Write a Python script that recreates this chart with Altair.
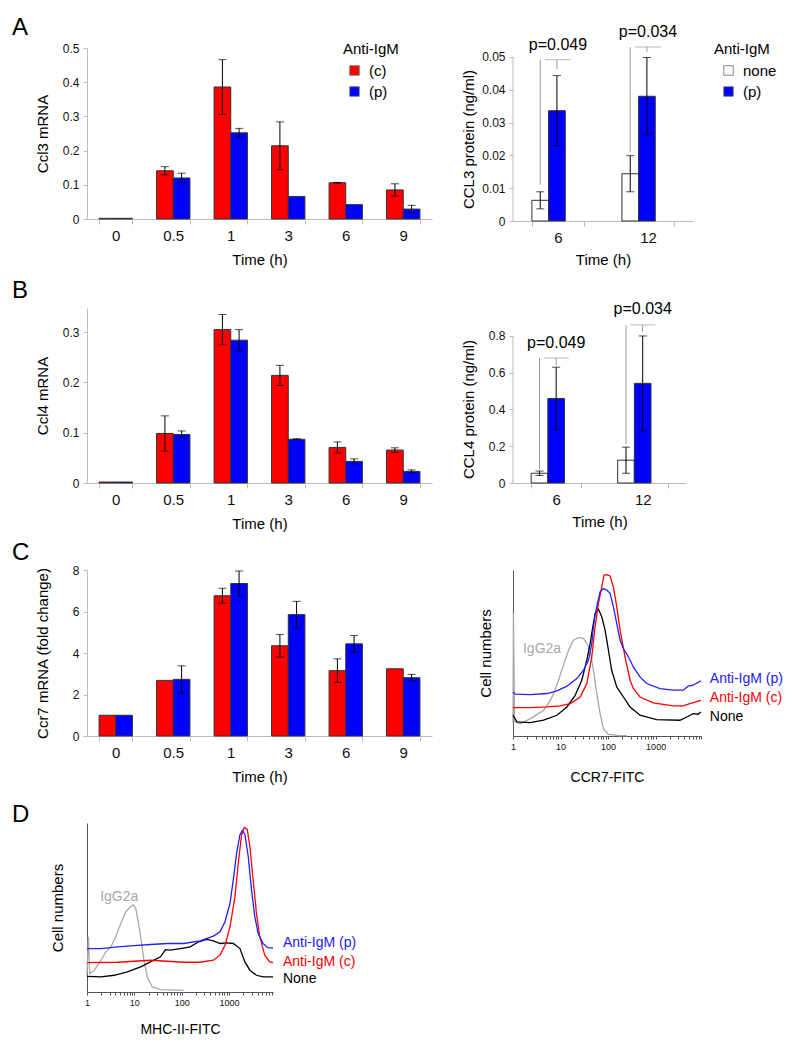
import altair as alt
import pandas as pd

FONT = "Liberation Sans"
RED = "#ff0000"
BLUE = "#0000ff"

# ---------------- bar chart data ----------------
times = ["0", "0.5", "1", "3", "6", "9"]
treatments = ["(c)", "(p)"]

ccl3_c = [0.002, 0.141, 0.386, 0.214, 0.106, 0.085]
ccl3_c_err = [0, 0.012, 0.080, 0.070, 0.001, 0.018]
ccl3_p = [0.002, 0.120, 0.252, 0.066, 0.042, 0.029]
ccl3_p_err = [0, 0.014, 0.013, 0, 0, 0.011]

ccl4_c = [0.002, 0.0985, 0.305, 0.214, 0.0707, 0.0655]
ccl4_c_err = [0, 0.035, 0.030, 0.020, 0.011, 0.0045]
ccl4_p = [0.002, 0.0965, 0.284, 0.087, 0.043, 0.023]
ccl4_p_err = [0, 0.007, 0.021, 0.001, 0.005, 0.003]

ccr7_c = [1.0, 2.68, 6.76, 4.35, 3.15, 3.24]
ccr7_c_err = [0, 0, 0.36, 0.54, 0.57, 0]
ccr7_p = [1.0, 2.73, 7.35, 5.85, 4.44, 2.81]
ccr7_p_err = [0, 0.65, 0.60, 0.64, 0.40, 0.16]

prot_times = ["6", "12"]
stims = ["none", "(p)"]
ccl3_none = [0.0063, 0.0144]
ccl3_none_err = [0.0026, 0.0055]
ccl3_prot_p = [0.0336, 0.0380]
ccl3_prot_p_err = [0.0107, 0.0118]
ccl4_none = [0.053, 0.124]
ccl4_none_err = [0.012, 0.071]
ccl4_prot_p = [0.460, 0.542]
ccl4_prot_p_err = [0.170, 0.258]

p_labels = ["p=0.049", "p=0.034"]
ccl3_br_top = [0.0491, 0.0530]
ccl3_br_left = [0.0110, 0.0210]
ccl3_br_right = [0.0463, 0.0515]
ccl3_p_y = [0.0537, 0.0576]
ccl4_br_top = [0.680, 0.860]
ccl4_br_left = [0.076, 0.212]
ccl4_br_right = [0.642, 0.822]
ccl4_p_y = [0.762, 0.947]

# ---------------- flow cytometry data ----------------
samples = ["IgG2a", "None", "Anti-IgM (c)", "Anti-IgM (p)"]
sample_colors = ["#a8a8a8", "#000000", "#ff0000", "#2020ff"]

c_gray_x = [1, 1.02, 1.08, 1.43, 2.7, 4.4, 6.1, 7.7, 9.8, 12.5, 14.7, 18.7, 23.9, 30.4, 35.7, 41.9, 49.2, 57.8, 68, 79.8, 101.6, 179, 250]
c_gray_y = [8.0, 73.8, 8.5, 7.4, 11.5, 15.5, 21.5, 27.6, 36.6, 45.7, 51.7, 57.7, 59.4, 58.8, 55.7, 51.7, 39.6, 25.6, 13.5, 4.4, 1.0, 0.2, 0.2]
c_black_x = [1, 1.21, 2.3, 4.4, 8.4, 13.6, 20.3, 28, 35.7, 41.9, 47.7, 53.4, 62.7, 73.6, 86.5, 101.6, 119, 152, 210, 290, 469, 1050, 3240, 4840, 6170, 7850, 8930]
c_black_y = [12.5, 8.5, 8.0, 9.5, 12.5, 17.5, 24.5, 33.6, 45.7, 55.7, 65.8, 73.8, 76.3, 71.8, 63.8, 51.7, 39.6, 29.6, 23.5, 17.5, 12.5, 9.9, 9.5, 11.9, 13.5, 13.1, 14.5]
c_red_x = [1, 2.3, 5.2, 9.8, 16, 25.9, 35.7, 45.4, 53.4, 62.7, 73.6, 82.4, 93.8, 110, 129, 152, 179, 227, 290, 340, 469, 893, 2349, 3800, 5250, 8930]
c_red_y = [17.1, 17.1, 17.5, 18.1, 19.5, 23.5, 31.6, 47.7, 65.8, 79.9, 89.9, 97.0, 97.2, 96.4, 89.9, 77.9, 63.8, 47.7, 33.6, 28.6, 23.5, 19.9, 18.1, 18.1, 19.5, 21.5]
c_blue_x = [1, 1.12, 2.3, 5.2, 8.4, 13.6, 22, 30.4, 38.7, 45.4, 49.2, 53.4, 59.7, 68, 79.8, 93.8, 110, 129, 152, 179, 210, 267, 340, 469, 647, 1233, 2349, 3800, 4840, 6170, 8930]
c_blue_y = [26.6, 25.2, 24.9, 25.6, 27.2, 30.0, 34.6, 39.6, 45.7, 55.7, 65.8, 72.8, 79.9, 86.9, 88.9, 87.9, 85.9, 77.9, 67.8, 57.7, 52.7, 47.7, 41.6, 35.6, 31.6, 28.6, 27.6, 27.6, 30.0, 30.6, 33.2]

d_gray_x = [1, 1.07, 1.14, 1.43, 1.97, 2.5, 3.19, 4.06, 5.17, 6.58, 8.38, 9.5, 10.7, 11.9, 13.6, 16, 18.7, 23.9, 35.7, 110]
d_gray_y = [10.3, 32.7, 10.9, 12.9, 18.8, 23.8, 26.7, 32.7, 40.6, 47.5, 50.5, 51.5, 49.5, 42.6, 32.7, 18.8, 8.9, 3.0, 1.4, 1.0]
d_black_x = [1, 1.97, 3.74, 7.13, 13.6, 22, 35.7, 45.4, 57.8, 93.8, 152, 227, 340, 469, 647, 893, 1233, 1702, 2168, 2758, 3800, 5250, 8510]
d_black_y = [9.3, 8.9, 9.9, 11.9, 14.9, 17.8, 20.8, 25.1, 24.8, 25.7, 26.7, 29.7, 31.1, 30.3, 28.7, 29.1, 28.7, 25.7, 17.8, 12.9, 9.9, 8.9, 8.9]
d_red_x = [1, 4.4, 22, 49.2, 110, 246, 469, 647, 824, 1050, 1336, 1570, 1845, 2100, 2427, 2758, 3240, 3800, 4470, 5690, 7240, 8510]
d_red_y = [17.4, 17.6, 18.8, 18.2, 17.6, 17.6, 18.8, 21.8, 27.7, 38.6, 56.4, 76.2, 93.1, 97.4, 96.4, 86.1, 66.3, 46.5, 32.7, 21.8, 17.8, 17.4]
d_blue_x = [1, 1.97, 4.4, 9.8, 22, 49.2, 110, 246, 469, 647, 824, 1050, 1233, 1449, 1702, 1905, 2168, 2547, 2990, 3510, 4120, 5250, 6680, 8510]
d_blue_y = [25.7, 25.7, 26.7, 27.5, 28.1, 28.7, 28.7, 30.3, 33.1, 35.6, 41.6, 52.5, 66.3, 82.2, 93.1, 95.6, 93.1, 80.2, 60.4, 44.6, 34.7, 28.7, 26.1, 26.1]

label_text = ["IgG2a", "Anti-IgM (p)", "Anti-IgM (c)", "None"]
label_sample = ["IgG2a", "Anti-IgM (p)", "Anti-IgM (c)", "None"]
c_label_x = [1.62, 13800, 13800, 13800]
c_label_y = [52.7, 34.6, 23.1, 11.5]
d_label_x = [1.9, 13800, 13800, 13800]
d_label_y = [56.0, 28.7, 17.8, 7.5]

c_ticks = [1, 2, 3, 4, 5, 6, 7, 8, 9, 10, 20, 30, 40, 50, 60, 70, 80, 90,
           100, 200, 300, 400, 500, 600, 700, 800, 900, 1000, 2000, 3000,
           4000, 5000, 6000, 7000, 8000, 9000]
d_ticks = c_ticks[:-1]


# ---------------- helpers ----------------
def bar_df(cats, groups, vals_a, err_a, vals_b, err_b):
    rows = []
    for gi, (g, vals, errs) in enumerate(((groups[0], vals_a, err_a),
                                          (groups[1], vals_b, err_b))):
        for t, v, e in zip(cats, vals, errs):
            rows.append({"time": t, "group": g, "gi": gi, "value": v, "err": e,
                         "lo": v - e, "hi": v + e})
    return pd.DataFrame(rows)


def x_enc(cats, title_y):
    return alt.X("time:N", sort=cats,
                 scale=alt.Scale(domain=cats, paddingInner=0.42, paddingOuter=0.21),
                 axis=alt.Axis(title="Time (h)", labelAngle=0, tickBand="extent",
                               domainColor="#bbbbbb", tickColor="#bbbbbb", tickSize=5,
                               labelFontSize=15, labelPadding=4, labelColor="#111111",
                               titleFontSize=15, titleFontWeight="normal",
                               titleY=title_y, titleBaseline="middle", grid=False))


def xo_enc():
    return alt.XOffset("gi:O", scale=alt.Scale(domain=[0, 1], paddingInner=0,
                                               paddingOuter=0))


def y_enc(field, title, domain, values, show_domain, title_y):
    ax = dict(title=title, values=values, format="~g", domain=show_domain,
              domainColor="#bbbbbb", tickColor="#bbbbbb", tickSize=4,
              labelFontSize=12, labelPadding=4, labelColor="#111111",
              titleFontSize=15, titleFontWeight="normal",
              titleX=-45, titleBaseline="middle", grid=False)
    if title_y is not None:
        ax["titleY"] = title_y
    return alt.Y(field + ":Q", scale=alt.Scale(domain=domain, nice=False, zero=True),
                 axis=alt.Axis(**ax))


def bar_panel(df, cats, groups, colors, ytitle, ydomain, yvalues, width, height,
              legend, brackets=None, title=None, short_axis=False, ytitle_y=None,
              xtitle_y=40):
    x = x_enc(cats, xtitle_y)
    xo = xo_enc()
    yy = lambda f: y_enc(f, ytitle, ydomain, yvalues, not short_axis, ytitle_y)
    base = alt.Chart(df)
    bars = base.mark_bar(stroke="#333333", strokeWidth=1).encode(
        x=x, xOffset=xo, y=yy("value"),
        color=alt.Color("group:N", scale=alt.Scale(domain=groups, range=colors),
                        legend=legend))
    errbase = base.transform_filter("datum.err > 0")
    errs = errbase.mark_rule(color="black", strokeWidth=1).encode(
        x=x, xOffset=xo, y=yy("lo"), y2="hi:Q")
    cap_hi = errbase.mark_tick(color="black", thickness=1, size=8).encode(
        x=x, xOffset=xo, y=yy("hi"))
    cap_lo = errbase.mark_tick(color="black", thickness=1, size=8).encode(
        x=x, xOffset=xo, y=yy("lo"))
    layers = [bars, errs, cap_hi, cap_lo]
    if short_axis:
        # y axis line drawn only from the lowest to the highest tick value
        adf = pd.DataFrame({"a0": [yvalues[0]], "a1": [yvalues[-1]]})
        aline = alt.Chart(adf).mark_rule(color="#bbbbbb", strokeWidth=1).encode(
            x=alt.value(0), y=yy("a0"), y2="a1:Q")
        layers.append(aline)
    if brackets is not None:
        top, left, right, py = brackets
        leg_rows = []
        for t, tp, l, r in zip(cats, top, left, right):
            leg_rows.append({"time": t, "gi": 0, "bottom": l, "top": tp})
            leg_rows.append({"time": t, "gi": 1, "bottom": r, "top": tp})
        legs = alt.Chart(pd.DataFrame(leg_rows)).mark_rule(
            color="#9a9a9a", strokeWidth=1).encode(
            x=x, xOffset=xo, y=yy("bottom"), y2="top:Q")
        pdf = pd.DataFrame({"time": cats, "top": top, "py": py, "label": p_labels})
        sub_w = width / len(cats) * 0.58 / 2
        bar_h = alt.Chart(pdf).mark_tick(color="#9a9a9a", thickness=1, size=sub_w).encode(
            x=x, y=yy("top"))
        ptxt = alt.Chart(pdf).mark_text(fontSize=16, baseline="middle").encode(
            x=x, y=yy("py"), text="label:N")
        layers += [legs, bar_h, ptxt]
    ch = alt.layer(*layers).properties(width=width, height=height)
    if title is not None:
        ch = ch.properties(title=title)
    return ch


def legend_spec(lx, ly, soff):
    return alt.Legend(title="Anti-IgM", orient="none", legendX=lx, legendY=ly,
                      titleFontSize=15, titleFontWeight="normal", titleColor="black",
                      labelFontSize=15, labelColor="black", symbolType="square",
                      symbolSize=90, symbolStrokeColor="#666666", symbolStrokeWidth=0.8,
                      symbolOffset=soff, labelOffset=7, rowPadding=5, titlePadding=6,
                      padding=0)


def letter(txt, dy):
    return alt.TitleParams(txt, anchor="start", frame="group", fontSize=24,
                           fontWeight="normal", dx=-75, dy=dy, offset=0,
                           baseline="alphabetic", color="black")


def flow_panel(series, lab_x, lab_y, width, height, xmax, ticks, xtitle, xtitle_y,
               ytitle_x, title=None):
    frames = []
    for name, xs, ys in series:
        frames.append(pd.DataFrame({"sample": name, "fl": xs, "count": ys}))
    df = pd.concat(frames, ignore_index=True)
    ldf = pd.DataFrame({"sample": label_sample, "label": label_text,
                        "fl": lab_x, "count": lab_y})
    x = alt.X("fl:Q", scale=alt.Scale(type="log", domain=[1, xmax], nice=False),
              axis=alt.Axis(title=xtitle, values=ticks,
                            labelExpr="(datum.value == 1 || datum.value == 10 || datum.value == 100 || datum.value == 1000) ? format(datum.value, 'd') : ''",
                            labelFlush=False, labelOverlap=False, tickSize=3,
                            domainColor="#555555", tickColor="#555555",
                            labelFontSize=9, labelPadding=3, labelColor="#111111",
                            titleFontSize=14, titleFontWeight="normal",
                            titleY=xtitle_y, titleBaseline="middle", grid=False))
    y = alt.Y("count:Q", scale=alt.Scale(domain=[0, 100], nice=False),
              axis=alt.Axis(title="Cell numbers", ticks=False, labels=False, grid=False,
                            domainColor="#555555", titleFontSize=15,
                            titleFontWeight="normal", titleX=ytitle_x,
                            titleBaseline="middle"))
    color = alt.Color("sample:N", scale=alt.Scale(domain=samples, range=sample_colors),
                      legend=None)
    lines = alt.Chart(df).mark_line(strokeWidth=1.3).encode(
        x=x, y=y, color=color, detail="sample:N")
    texts = alt.Chart(ldf).mark_text(align="left", baseline="middle", fontSize=14).encode(
        x=x, y=y, color=color, text="label:N")
    ch = alt.layer(lines, texts).properties(width=width, height=height)
    if title is not None:
        ch = ch.properties(title=title)
    return ch


# ---------------- panels ----------------
a_left = bar_panel(bar_df(times, treatments, ccl3_c, ccl3_c_err, ccl3_p, ccl3_p_err),
                   times, treatments, [RED, BLUE], "Ccl3 mRNA", [0, 0.5],
                   [0, 0.1, 0.2, 0.3, 0.4, 0.5], 345, 171,
                   legend_spec(256, -6, 4), title=letter("A", 17))
a_right = bar_panel(bar_df(prot_times, stims, ccl3_none, ccl3_none_err,
                           ccl3_prot_p, ccl3_prot_p_err),
                    prot_times, stims, ["#ffffff", BLUE], "CCL3 protein (ng/ml)",
                    [0, 0.0527], [0, 0.01, 0.02, 0.03, 0.04, 0.05], 180, 173,
                    legend_spec(201, -6, 7),
                    brackets=(ccl3_br_top, ccl3_br_left, ccl3_br_right, ccl3_p_y),
                    short_axis=True, ytitle_y=91, xtitle_y=38)

b_left = bar_panel(bar_df(times, treatments, ccl4_c, ccl4_c_err, ccl4_p, ccl4_p_err),
                   times, treatments, [RED, BLUE], "Ccl4 mRNA", [0, 0.348],
                   [0, 0.1, 0.2, 0.3], 345, 175, None, title=letter("B", 14))
b_right = bar_panel(bar_df(prot_times, stims, ccl4_none, ccl4_none_err,
                           ccl4_prot_p, ccl4_prot_p_err),
                    prot_times, stims, ["#ffffff", BLUE], "CCL4 protein (ng/ml)",
                    [0, 0.952], [0, 0.2, 0.4, 0.6, 0.8], 173, 175, None,
                    brackets=(ccl4_br_top, ccl4_br_left, ccl4_br_right, ccl4_p_y),
                    short_axis=True, ytitle_y=101, xtitle_y=38)

c_left = bar_panel(bar_df(times, treatments, ccr7_c, ccr7_c_err, ccr7_p, ccr7_p_err),
                   times, treatments, [RED, BLUE], "Ccr7 mRNA (fold change)", [0, 8],
                   [0, 2, 4, 6, 8], 345, 166, None, title=letter("C", 20))
c_right = flow_panel([("IgG2a", c_gray_x, c_gray_y), ("None", c_black_x, c_black_y),
                      ("Anti-IgM (c)", c_red_x, c_red_y),
                      ("Anti-IgM (p)", c_blue_x, c_blue_y)],
                     c_label_x, c_label_y, 188, 166, 9000, c_ticks, "CCR7-FITC", 41, -28)

d_panel = flow_panel([("IgG2a", d_gray_x, d_gray_y), ("None", d_black_x, d_black_y),
                      ("Anti-IgM (c)", d_red_x, d_red_y),
                      ("Anti-IgM (p)", d_blue_x, d_blue_y)],
                     d_label_x, d_label_y, 186, 169, 8500, d_ticks, "MHC-II-FITC", 37, -30,
                     title=letter("D", 23))

chart = alt.concat(
    a_left, a_right, b_left, b_right, c_left, c_right, d_panel,
    columns=2, spacing={"row": 87, "column": 81}, bounds="flush", align="each"
).resolve_scale(
    color="independent"
).properties(
    padding={"left": 4, "top": 8, "right": 5, "bottom": 5}
).configure(font=FONT).configure_view(strokeWidth=0)

chart.save("out.html", embed_options={"renderer": "svg", "actions": False})
